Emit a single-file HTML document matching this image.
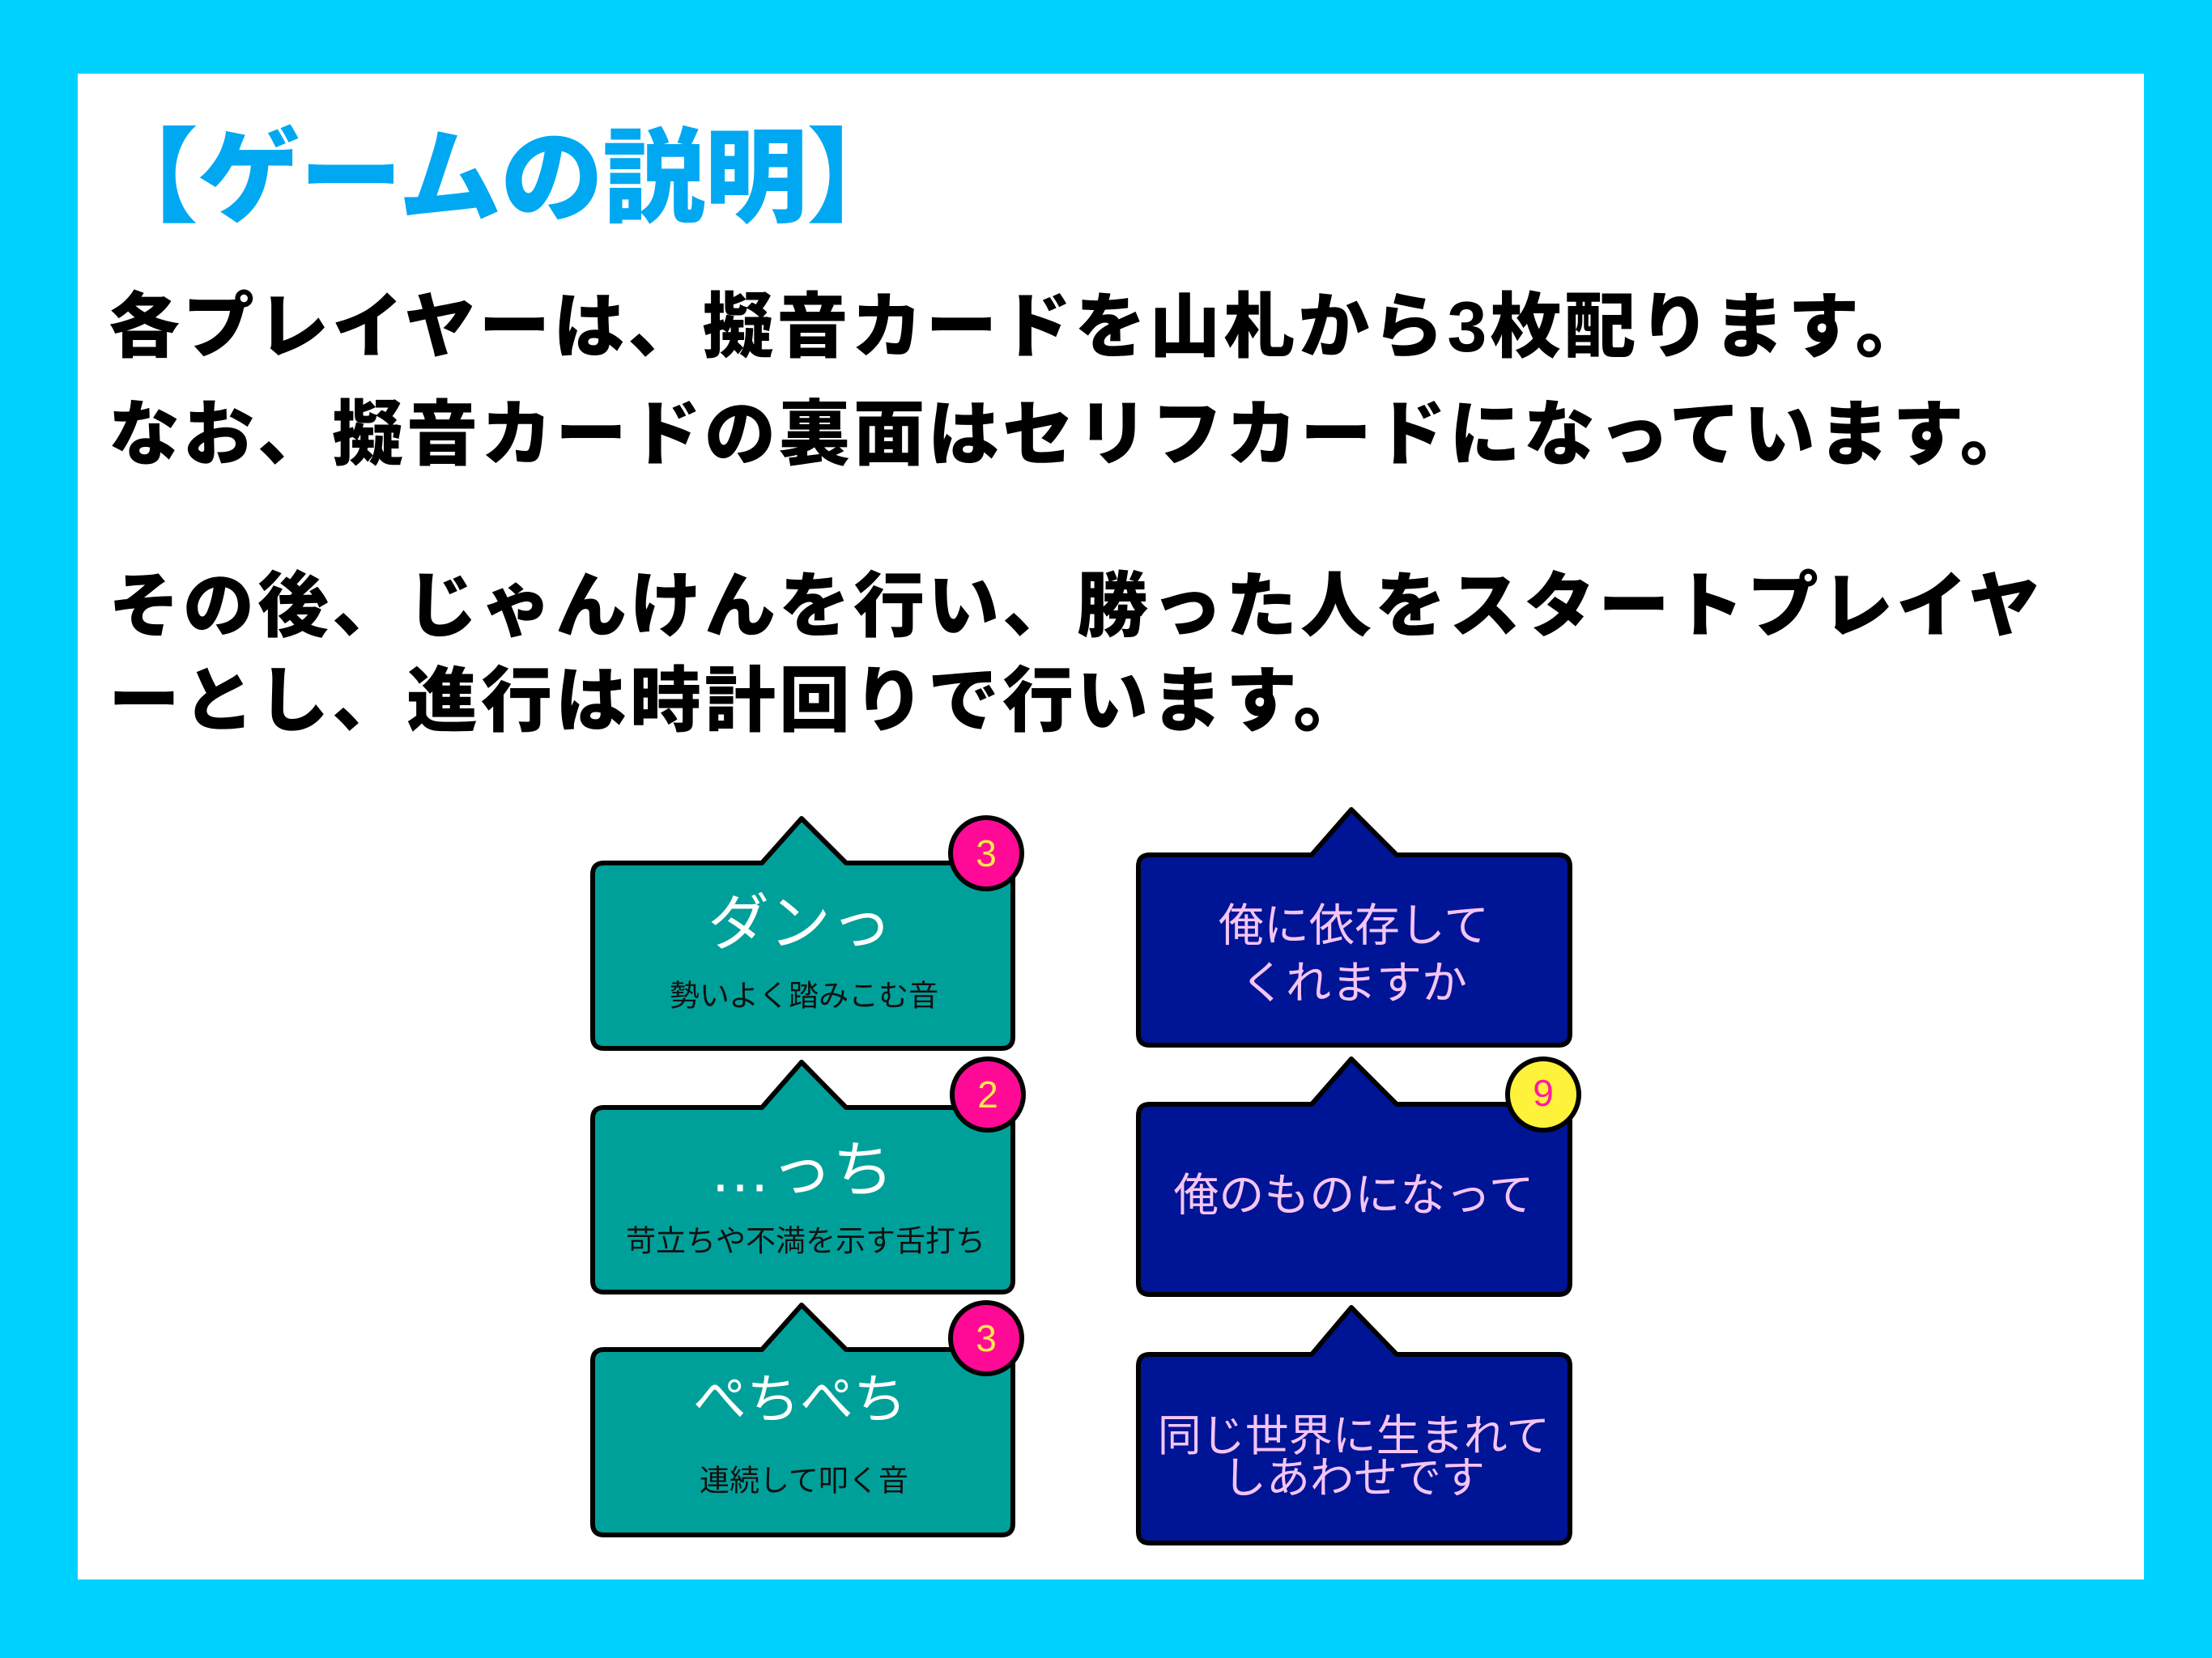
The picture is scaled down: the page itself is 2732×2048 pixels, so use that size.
<!DOCTYPE html>
<html><head><meta charset="utf-8"><style>
html,body{margin:0;padding:0;}
body{width:2732px;height:2048px;background:#00d2ff;position:relative;overflow:hidden;font-family:"Liberation Sans","Noto Sans CJK JP",sans-serif;}
.panel{position:absolute;left:96px;top:91px;width:2552px;height:1860px;background:#fff;}
.t{position:absolute;white-space:nowrap;font-weight:900;font-family:"Liberation Sans","Noto Sans CJK JP",sans-serif;}
.title{left:118px;top:135px;font-size:127px;color:#00a8f2;line-height:170px;letter-spacing:-1px;}
.b{left:134px;font-size:88px;color:#000;line-height:110px;letter-spacing:4px;}
svg{position:absolute;left:0;top:0;}
svg text{font-family:"Liberation Sans","Noto Sans CJK JP",sans-serif;text-anchor:middle;dominant-baseline:central;}
</style></head><body>
<div class="panel"></div>
<div class="t title">【ゲームの説明】</div>
<div class="t b" style="top:349px">各プレイヤーは、擬音カードを山札から3枚配ります。</div>
<div class="t b" style="top:482px">なお、擬音カードの裏面はセリフカードになっています。</div>
<div class="t b" style="top:694px">その後、じゃんけんを行い、勝った人をスタートプレイヤ</div>
<div class="t b" style="top:811px">ーとし、進行は時計回りで行います。</div>
<svg width="2732" height="2048" viewBox="0 0 2732 2048">
<g stroke="#000" stroke-width="6" stroke-linejoin="round">
<path fill="#00a09a" d="M746,1066 H941 L990,1011 L1045,1066 H1237 Q1251,1066 1251,1080 V1281 Q1251,1295 1237,1295 H746 Q732,1295 732,1281 V1080 Q732,1066 746,1066 Z"/>
<path fill="#00a09a" d="M746,1368 H941 L990,1312 L1045,1368 H1237 Q1251,1368 1251,1382 V1582 Q1251,1596 1237,1596 H746 Q732,1596 732,1582 V1382 Q732,1368 746,1368 Z"/>
<path fill="#00a09a" d="M746,1667 H941 L990,1612 L1045,1667 H1237 Q1251,1667 1251,1681 V1882 Q1251,1896 1237,1896 H746 Q732,1896 732,1882 V1681 Q732,1667 746,1667 Z"/>
<path fill="#001496" d="M1420,1056 H1620 L1669,1000 L1725,1056 H1925 Q1939,1056 1939,1070 V1277 Q1939,1291 1925,1291 H1420 Q1406,1291 1406,1277 V1070 Q1406,1056 1420,1056 Z"/>
<path fill="#001496" d="M1420,1364 H1620 L1669,1308 L1725,1364 H1925 Q1939,1364 1939,1378 V1585 Q1939,1599 1925,1599 H1420 Q1406,1599 1406,1585 V1378 Q1406,1364 1420,1364 Z"/>
<path fill="#001496" d="M1420,1673 H1620 L1669,1615 L1725,1673 H1925 Q1939,1673 1939,1687 V1892 Q1939,1906 1925,1906 H1420 Q1406,1906 1406,1892 V1687 Q1406,1673 1420,1673 Z"/>
<circle cx="1218" cy="1054" r="44" fill="#ff0a96"/>
<circle cx="1220" cy="1352" r="44" fill="#ff0a96"/>
<circle cx="1218" cy="1653" r="44" fill="#ff0a96"/>
<circle cx="1906" cy="1352" r="44" fill="#fff23a"/>
</g>
<g font-size="46">
<text x="1218" y="1054" fill="#ffe84a">3</text>
<text x="1220" y="1352" fill="#ffe84a">2</text>
<text x="1218" y="1653" fill="#ffe84a">3</text>
<text x="1906" y="1350" fill="#ff1aa0">9</text>
</g>
<g fill="#fff" font-size="76">
<text x="988" y="1141">ダンっ</text>
<text x="990" y="1446">…っち</text>
<text x="988" y="1728" font-size="66">ぺちぺち</text>
</g>
<g fill="#111" font-size="37">
<text x="993" y="1230">勢いよく踏みこむ音</text>
<text x="995" y="1533">苛立ちや不満を示す舌打ち</text>
<text x="993" y="1829">連続して叩く音</text>
</g>
<g fill="#f4c4f4" font-size="56">
<text x="1672" y="1143">俺に依存して</text>
<text x="1672" y="1214">くれますか</text>
<text x="1672" y="1476">俺のものになって</text>
<text x="1672" y="1774" font-size="54">同じ世界に生まれて</text>
<text x="1672" y="1826" font-size="54">しあわせです</text>
</g>
</svg>
</body></html>
